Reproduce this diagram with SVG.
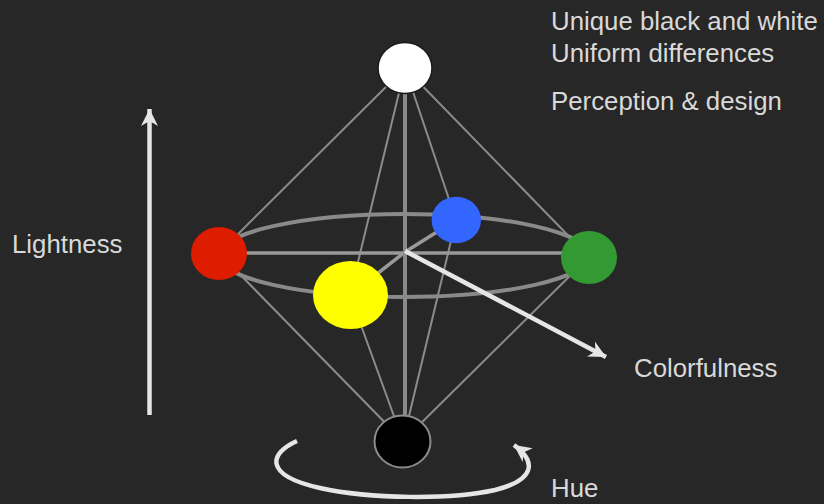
<svg xmlns="http://www.w3.org/2000/svg" width="824" height="504" viewBox="0 0 824 504">
<defs>
<style>
.bg{fill:#272727}
.thin{stroke:#8c8c8c;stroke-width:2;fill:none}
.mid{stroke:#999;stroke-width:3.5;fill:none}
.thick{stroke:#8a8a8a;stroke-width:4;fill:none}
.arrow{stroke:#e6e6e6;stroke-width:4.5;fill:none;marker-end:url(#head)}
.lbl{font-family:"Liberation Sans",Arial,sans-serif;font-size:25.8px;fill:#d9d9d9}
</style>
<marker id="head" markerUnits="userSpaceOnUse" markerWidth="24" markerHeight="24" viewBox="-20 -12 24 24" refX="0" refY="0" orient="auto">
<path d="M0,0 L-17,-8.5 L-12,0 L-17,8.5 Z" fill="#e6e6e6"/>
</marker>
</defs>
<rect class="bg" x="0" y="0" width="824" height="504"/>
<g id="connectors">
<ellipse class="thick" cx="404" cy="255.5" rx="185" ry="41.5"/>
<line class="thin" x1="405" y1="68" x2="219" y2="253"/>
<line class="thin" x1="405" y1="68" x2="589" y2="257"/>
<line class="thin" x1="405" y1="68" x2="350" y2="295"/>
<line class="thin" x1="405" y1="68" x2="456" y2="220"/>
<line class="thin" x1="403" y1="441" x2="219" y2="253"/>
<line class="thin" x1="403" y1="441" x2="589" y2="257"/>
<line class="thin" x1="403" y1="441" x2="350" y2="295"/>
<line class="thin" x1="403" y1="441" x2="456" y2="220"/>
<line class="mid" x1="219" y1="253" x2="589" y2="253"/>
<polyline class="mid" points="350,295 405,252 456,220"/>
<line class="thick" x1="405" y1="68" x2="405" y2="441"/>
<line class="arrow" x1="405" y1="251" x2="606" y2="357"/>
<line class="arrow" x1="149.5" y1="415" x2="149.5" y2="109"/>
<path class="arrow" d="M297,441 C270,453 262,475 320,488 C370,499 450,500 495,490 C535,480 537,462 514,445"/>
</g>
<g id="white"><ellipse cx="405" cy="68" rx="27" ry="25.5" fill="#fff" stroke="#1a1a1a" stroke-width="1.5"/></g>
<g id="red"><ellipse cx="219" cy="253.5" rx="28" ry="26.5" fill="#dd1c00"/></g>
<g id="green"><ellipse cx="589" cy="257.5" rx="28" ry="26.5" fill="#339933"/></g>
<g id="blue"><ellipse cx="456.3" cy="220" rx="24.7" ry="23.3" fill="#3366ff"/></g>
<g id="yellow"><ellipse cx="350.5" cy="295" rx="37.5" ry="34" fill="#ffff00"/></g>
<g id="black"><ellipse cx="402.5" cy="441.5" rx="28" ry="26" fill="#000" stroke="#8c8c8c" stroke-width="2"/></g>
<g id="labels">
<text class="lbl" x="551" y="30">Unique black and white</text>
<text class="lbl" x="551" y="61.5">Uniform differences</text>
<text class="lbl" x="551" y="110">Perception &amp; design</text>
<text class="lbl" x="12" y="253">Lightness</text>
<text class="lbl" x="634" y="377">Colorfulness</text>
<text class="lbl" x="551" y="497">Hue</text>
</g>
</svg>
